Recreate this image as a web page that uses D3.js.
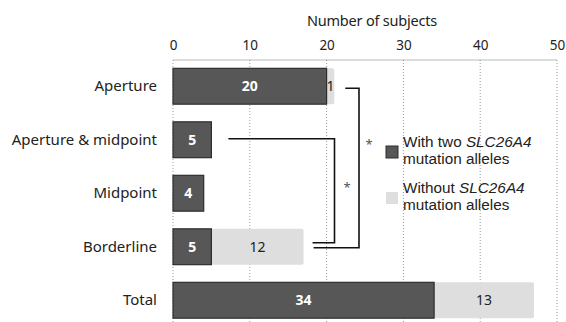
<!DOCTYPE html>
<html>
<head>
<meta charset="utf-8">
<script src="https://cdn.jsdelivr.net/npm/d3@7"></script>
<style>
  html, body { margin: 0; padding: 0; background: #fff; }
  svg { display: block; font-family: "Noto Sans", "DejaVu Sans", Arial, sans-serif; }
  .legend text { font-family: "Liberation Sans", Arial, sans-serif; }
</style>
</head>
<body>
<svg id="chart" width="566" height="322"></svg>
<script>
// Subjects by vestibular aqueduct enlargement site
const categories = ["Aperture", "Aperture & midpoint", "Midpoint", "Borderline", "Total"];
const withTwoAlleles = [20, 5, 4, 5, 34];
const withoutAlleles = [1, 0, 0, 12, 13];
const xTicks = [0, 10, 20, 30, 40, 50];
const axisTitle = "Number of subjects";
// Significant pairwise comparisons
const comparisons = [
  { a: "Aperture", b: "Borderline", label: "*" },
  { a: "Aperture & midpoint", b: "Borderline", label: "*" }
];

const svg = d3.select("#chart");
const darkFill = "#575757", darkStroke = "#2e2e2e", lightFill = "#dedede";

const x = d3.scaleLinear().domain([0, 50]).range([173, 557]);
const y = d3.scaleBand().domain(categories).range([59.5, 327])
  .paddingInner(0.33).paddingOuter(0.165);

// Gridlines
svg.append("g").selectAll("line").data(xTicks).join("line")
  .attr("x1", d => x(d)).attr("x2", d => x(d))
  .attr("y1", 60).attr("y2", 322)
  .attr("stroke", "#9a9a9a").attr("stroke-width", 1)
  .attr("stroke-dasharray", "1,2");

// Top axis
const axis = d3.axisTop(x).tickValues(xTicks).tickSize(0).tickPadding(10);
const gAxis = svg.append("g").attr("transform", "translate(0,59.5)").call(axis);
gAxis.attr("font-family", null);
gAxis.select(".domain").attr("stroke", "#777").attr("stroke-dasharray", "1,1");
gAxis.selectAll("text").attr("font-size", 13.5).attr("fill", "#222");

svg.append("text").attr("x", 372).attr("y", 26)
  .attr("text-anchor", "middle").attr("font-size", 14.5).attr("fill", "#222")
  .attr("letter-spacing", "-0.2")
  .text(axisTitle);

// Category labels
svg.append("g").selectAll("text").data(categories).join("text")
  .attr("x", 157).attr("y", d => y(d) + y.bandwidth() / 2 + 5)
  .attr("text-anchor", "end").attr("font-size", 15).attr("fill", "#222")
  .text(d => d);

const rows = categories.map((c, i) => ({ c, w: withTwoAlleles[i], wo: withoutAlleles[i] }));

// Bars without mutation alleles (stacked after the dark segment)
svg.append("g").selectAll("rect").data(rows.filter(r => r.wo > 0)).join("rect")
  .attr("x", r => x(r.w)).attr("y", r => y(r.c))
  .attr("width", r => x(r.w + r.wo) - x(r.w)).attr("height", y.bandwidth())
  .attr("rx", 2).attr("fill", lightFill);

// Bars with two mutation alleles
svg.append("g").selectAll("rect").data(rows).join("rect")
  .attr("x", x(0)).attr("y", r => y(r.c))
  .attr("width", r => x(r.w) - x(0)).attr("height", y.bandwidth())
  .attr("fill", darkFill).attr("stroke", darkStroke).attr("stroke-width", 1.2);

// Value labels
svg.append("g").selectAll("text").data(rows).join("text")
  .attr("x", r => (x(0) + x(r.w)) / 2).attr("y", r => y(r.c) + y.bandwidth() / 2 + 5)
  .attr("text-anchor", "middle").attr("font-size", 14).attr("font-weight", "bold")
  .attr("fill", "#fff").text(r => r.w);

svg.append("g").selectAll("text").data(rows.filter(r => r.wo > 0)).join("text")
  .attr("x", r => (x(r.w) + x(r.w + r.wo)) / 2).attr("y", r => y(r.c) + y.bandwidth() / 2 + 5)
  .attr("text-anchor", "middle").attr("font-size", 14)
  .attr("fill", "#222").text(r => r.wo);

// Significance brackets
const mid = c => y(c) + y.bandwidth() / 2;
const total = c => { const i = categories.indexOf(c); return withTwoAlleles[i] + withoutAlleles[i]; };
const bracketSpecs = [
  { cmp: comparisons[0], vx: 359, ax: 11, bx: 10, ay: 2, by: 1, sx: 369, sy: 149 },
  { cmp: comparisons[1], vx: 334.5, ax: 17, bx: 9, ay: -1, by: -4, sx: 347, sy: 192 }
];
const gBr = svg.append("g");
bracketSpecs.forEach(s => {
  const xa = x(total(s.cmp.a)) + s.ax;
  const xb = x(total(s.cmp.b)) + s.bx;
  const ya = mid(s.cmp.a) + s.ay;
  const yb = mid(s.cmp.b) + s.by;
  gBr.append("path")
    .attr("d", `M${xa},${ya}H${s.vx}V${yb}H${xb}`)
    .attr("fill", "none").attr("stroke", "#111").attr("stroke-width", 1.6);
  gBr.append("text").attr("x", s.sx).attr("y", s.sy)
    .attr("text-anchor", "middle").attr("font-size", 13).attr("fill", "#555")
    .text(s.cmp.label);
});

// Legend: each entry is one text block wrapped over two lines
const legend = [
  { fill: darkFill, stroke: darkStroke, lead: "With two ", gene: "SLC26A4", tail: "mutation alleles" },
  { fill: lightFill, stroke: "none", lead: "Without ", gene: "SLC26A4", tail: "mutation alleles" }
];
const gL = svg.append("g").attr("class", "legend");
legend.forEach((l, i) => {
  const top = 140 + i * 46;
  gL.append("rect").attr("x", 386).attr("y", top + 6).attr("width", 12).attr("height", 12)
    .attr("fill", l.fill).attr("stroke", l.stroke).attr("stroke-width", 1);
  const t = gL.append("text").attr("x", 403).attr("y", top + 7)
    .attr("font-size", 15.3).attr("fill", "#222");
  t.append("tspan").text(l.lead);
  t.append("tspan").attr("font-style", "italic").text(l.gene);
  t.append("tspan").attr("x", 403).attr("dy", 17.4).text(l.tail);
});
</script>
</body>
</html>
